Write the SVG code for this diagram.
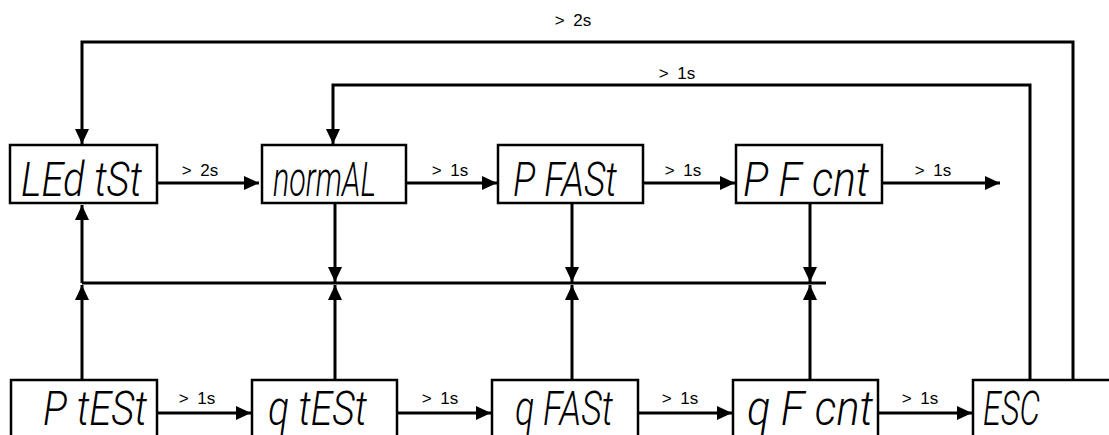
<svg xmlns="http://www.w3.org/2000/svg" width="1109" height="435" viewBox="0 0 1109 435">
<style>
.box{fill:#fff;stroke:#000;stroke-width:2.5}
.lcd{font-family:Roboto,"DejaVu Sans","Liberation Sans",sans-serif;font-style:italic;font-weight:300;font-size:48px;fill:#000}
.lbl{font-family:"Liberation Sans",Arial,sans-serif;font-size:17px;fill:#000;word-spacing:4px}
.ln{fill:none;stroke:#000;stroke-width:3}
</style>
<defs>
<marker id="ah" markerUnits="userSpaceOnUse" markerWidth="16" markerHeight="14" refX="15" refY="7" orient="auto" viewBox="0 0 16 14">
<path d="M0,0 L15,7 L0,14 z" fill="#000"/>
</marker>
</defs>
<rect width="1109" height="435" fill="#fff"/>
<g id="connectors">
<path class="ln" d="M157,183 H259" marker-end="url(#ah)"/>
<path class="ln" d="M406,183 H497" marker-end="url(#ah)"/>
<path class="ln" d="M643,183 H735" marker-end="url(#ah)"/>
<path class="ln" d="M882,183 H1000" marker-end="url(#ah)"/>
<path class="ln" d="M157,413 H251" marker-end="url(#ah)"/>
<path class="ln" d="M397,413 H491" marker-end="url(#ah)"/>
<path class="ln" d="M638,413 H732" marker-end="url(#ah)"/>
<path class="ln" d="M878,413 H972" marker-end="url(#ah)"/>
<path class="ln" d="M82,283 H826"/>
<path class="ln" d="M82,283 V205" marker-end="url(#ah)"/>
<path class="ln" d="M335,203 V282" marker-end="url(#ah)"/>
<path class="ln" d="M572,203 V282" marker-end="url(#ah)"/>
<path class="ln" d="M810,203 V282" marker-end="url(#ah)"/>
<path class="ln" d="M82,380 V285" marker-end="url(#ah)"/>
<path class="ln" d="M335,380 V285" marker-end="url(#ah)"/>
<path class="ln" d="M572,380 V285" marker-end="url(#ah)"/>
<path class="ln" d="M810,380 V285" marker-end="url(#ah)"/>
<path class="ln" d="M1030,380 V85 H333 V144" marker-end="url(#ah)"/>
<path class="ln" d="M1073,380 V42 H82 V144" marker-end="url(#ah)"/>
<text class="lbl" x="573" y="26" text-anchor="middle">&gt; 2s</text>
<text class="lbl" x="677" y="79" text-anchor="middle">&gt; 1s</text>
<text class="lbl" x="200" y="176" text-anchor="middle">&gt; 2s</text>
<text class="lbl" x="450" y="176" text-anchor="middle">&gt; 1s</text>
<text class="lbl" x="683" y="176" text-anchor="middle">&gt; 1s</text>
<text class="lbl" x="933" y="176" text-anchor="middle">&gt; 1s</text>
<text class="lbl" x="197" y="404" text-anchor="middle">&gt; 1s</text>
<text class="lbl" x="440" y="404" text-anchor="middle">&gt; 1s</text>
<text class="lbl" x="680" y="404" text-anchor="middle">&gt; 1s</text>
<text class="lbl" x="920" y="404" text-anchor="middle">&gt; 1s</text>
</g>
<g id="n-ledtst"><rect class="box" x="10" y="145" width="147" height="58"/><text class="lcd" x="21" y="196" textLength="121" lengthAdjust="spacingAndGlyphs">LEd tSt</text></g>
<g id="n-normal"><rect class="box" x="262" y="145" width="144" height="58"/><text class="lcd" x="273" y="196" textLength="103" lengthAdjust="spacingAndGlyphs">normAL</text></g>
<g id="n-pfast"><rect class="box" x="498" y="145" width="145" height="58"/><text class="lcd" x="513" y="196" textLength="104" lengthAdjust="spacingAndGlyphs">P FASt</text></g>
<g id="n-pfcnt"><rect class="box" x="736" y="145" width="146" height="58"/><text class="lcd" x="743" y="196" textLength="126" lengthAdjust="spacingAndGlyphs">P F cnt</text></g>
<g id="n-ptest"><rect class="box" x="11" y="380" width="146" height="70"/><text class="lcd" x="43" y="425" textLength="104" lengthAdjust="spacingAndGlyphs">P tESt</text></g>
<g id="n-qtest"><rect class="box" x="252" y="380" width="145" height="70"/><text class="lcd" x="268" y="425" textLength="99" lengthAdjust="spacingAndGlyphs">q tESt</text></g>
<g id="n-qfast"><rect class="box" x="492" y="380" width="146" height="70"/><text class="lcd" x="515" y="425" textLength="98" lengthAdjust="spacingAndGlyphs">q FASt</text></g>
<g id="n-qfcnt"><rect class="box" x="733" y="380" width="145" height="70"/><text class="lcd" x="747" y="425" textLength="126" lengthAdjust="spacingAndGlyphs">q F cnt</text></g>
<g id="n-esc"><rect class="box" x="973" y="380" width="160" height="70"/><text class="lcd" x="983" y="425" textLength="57" lengthAdjust="spacingAndGlyphs">ESC</text></g>
</svg>
